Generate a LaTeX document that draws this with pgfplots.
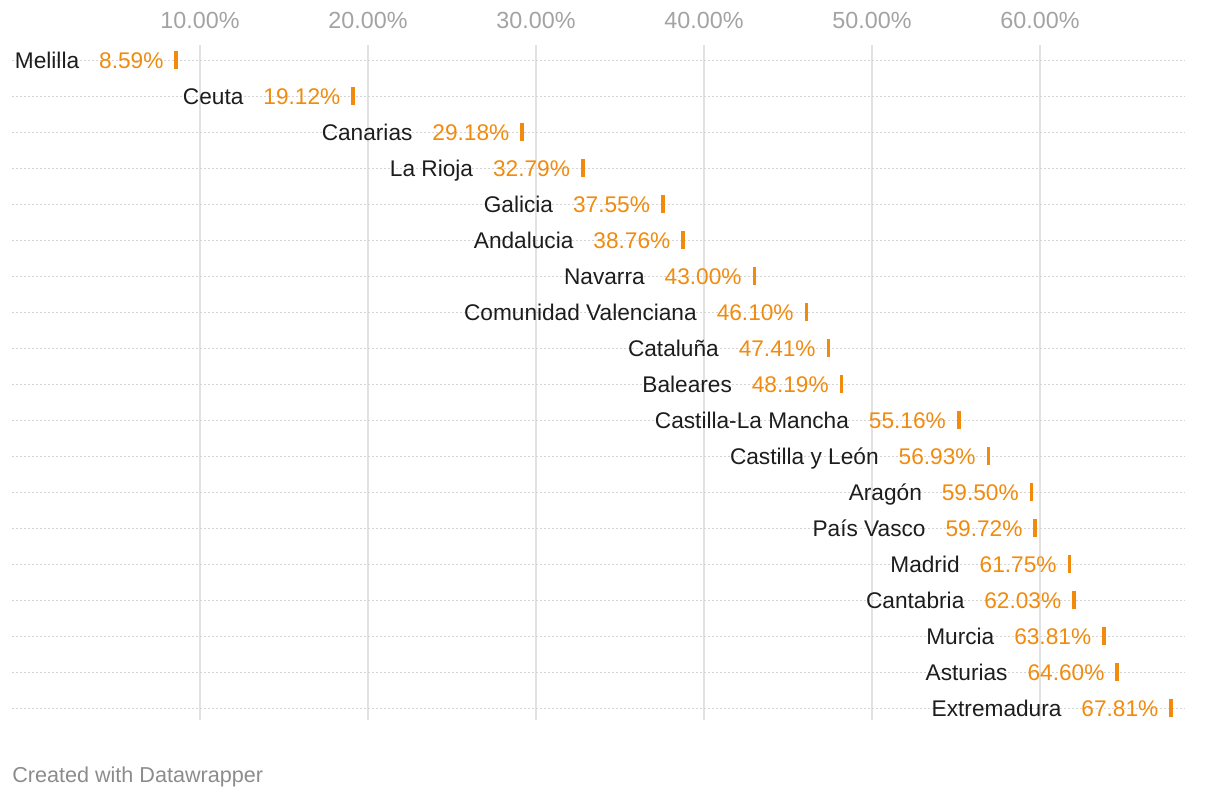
\documentclass[border=0pt]{standalone}
\usepackage{pgfplots}
\pgfplotsset{compat=1.18}
\usepackage{pgfplotstable}
\usepackage{fontspec}
\setmainfont{Liberation Sans}

\definecolor{dworange}{HTML}{F28A0C}
\definecolor{namecol}{HTML}{1D1D1D}
\definecolor{tickgray}{HTML}{A3A3A3}
\definecolor{gridgray}{HTML}{E2E2E2}
\definecolor{dotgray}{HTML}{D4D4D4}
\definecolor{footgray}{HTML}{8C8C8C}

% row index (0 = top), share in percent
\pgfplotstableread[col sep=comma]{
row,val,name
0,8.59,Melilla
1,19.12,Ceuta
2,29.18,Canarias
3,32.79,La Rioja
4,37.55,Galicia
5,38.76,Andalucia
6,43.00,Navarra
7,46.10,Comunidad Valenciana
8,47.41,Cataluña
9,48.19,Baleares
10,55.16,Castilla-La Mancha
11,56.93,Castilla y León
12,59.50,Aragón
13,59.72,País Vasco
14,61.75,Madrid
15,62.03,Cantabria
16,63.81,Murcia
17,64.60,Asturias
18,67.81,Extremadura
}\datatable

\begin{document}
\begin{tikzpicture}
\path[use as bounding box] (0,0) rectangle (915pt,-598.5pt);
\begin{axis}[
  at={(9pt,-33.75pt)}, anchor=north west,
  scale only axis, width=879.75pt, height=506.25pt,
  xmin=-1.19, xmax=68.63, ymin=-18.33, ymax=0.42,
  axis line style={draw=none},
  major tick length=0pt,
  xtick={10,20,...,60},
  xticklabel pos=right,
  xticklabel={\pgfmathprintnumber[fixed,fixed zerofill,precision=2]{\tick}\%},
  /pgf/number format/assume math mode=true,
  xticklabel style={text=tickgray, font=\fontsize{17.5pt}{19pt}\selectfont, yshift=8.5pt},
  ytick={-18,-17,...,0}, yticklabels={},
  xmajorgrids, ymajorgrids,
  x grid style={gridgray, line width=1.1pt},
  y grid style={dotgray, line width=0.9pt, dash pattern=on 1.5pt off 1.5pt},
  clip=false,
]
\addplot[only marks, mark=|, mark size=6.75pt, dworange,
  mark options={line width=2.8pt},
  point meta=explicit symbolic,
  nodes near coords={{\color{namecol}\pgfplotspointmeta}\hspace{15pt}{\color{dworange}\pgfmathprintnumber[fixed,fixed zerofill,precision=2]{\pgfkeysvalueof{/data point/x}}\%}},
  every node near coord/.append style={anchor=base east, xshift=-8.25pt, yshift=-6pt,
    inner sep=0pt, font=\fontsize{17pt}{19pt}\selectfont},
] table[x=val, y expr=-\thisrow{row}, meta=name] {\datatable};
\end{axis}
\node[anchor=base west, inner sep=0pt, text=footgray, font=\fontsize{16.2pt}{18pt}\selectfont] at (9pt,-586.5pt) {Created with Datawrapper};
\end{tikzpicture}
\end{document}
